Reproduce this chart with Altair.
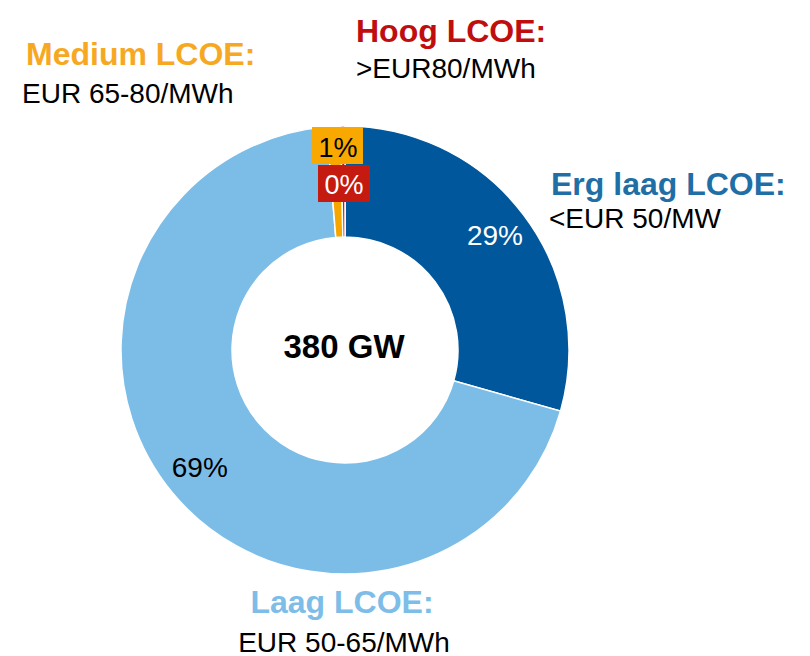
import altair as alt
import pandas as pd

# Data
categories = ["Erg laag LCOE", "Laag LCOE", "Medium LCOE", "Hoog LCOE"]
shares = [29.4, 69.3, 1.0, 0.3]
pct_labels = ["29%", "69%", "1%", "0%"]
slice_order = [1, 2, 3, 4]
slice_colors = ["#00579B", "#7CBDE8", "#F7A600", "#C0190F"]

df = pd.DataFrame({"cat": categories, "share": shares, "label": pct_labels, "ord": slice_order})

FONT = "Liberation Sans Narrow, Liberation Sans, Arial, sans-serif"
W, H = 674, 684

color_scale = alt.Scale(domain=categories, range=slice_colors)

base = alt.Chart(df).encode(
    theta=alt.Theta("share:Q", stack=True),
    order=alt.Order("ord:Q"),
)

arcs = base.mark_arc(innerRadius=113, outerRadius=224, stroke="white", strokeWidth=1.5).encode(
    color=alt.Color("cat:N", scale=color_scale, legend=None)
)

pct_big = base.mark_text(radius=188, font=FONT, fontSize=28, baseline="middle", align="center").encode(
    text="label:N",
    color=alt.condition(alt.datum.cat == "Erg laag LCOE", alt.value("white"), alt.value("black")),
).transform_filter("datum.share > 10")

def txt(s, x, y, size, color, bold=False, align="left"):
    return alt.Chart(pd.DataFrame({"t": [s]})).mark_text(
        font=FONT, fontSize=size, fontWeight="bold" if bold else "normal",
        align=align, baseline="alphabetic", color=color,
    ).encode(text="t:N", x=alt.value(x), y=alt.value(y))

def box(x1, x2, y1, y2, color):
    return alt.Chart(pd.DataFrame({"a": [0]})).mark_rect(color=color).encode(
        x=alt.value(x1), x2=alt.value(x2), y=alt.value(y1), y2=alt.value(y2)
    )

layers = [
    arcs,
    pct_big,
    box(304, 355, 119, 156, "#F9A800"),
    box(310, 362, 157, 194, "#C41A10"),
    txt(pct_labels[2], 330, 149, 27, "black", align="center"),
    txt(pct_labels[3], 336, 186, 27, "white", align="center"),
    txt("380 GW", 336, 350, 33, "black", bold=True, align="center"),
    txt("Medium LCOE:", 18, 57, 32, "#F7A823", bold=True),
    txt("EUR 65-80/MWh", 14, 95, 28, "black"),
    txt("Hoog LCOE:", 348, 34, 32, "#C00D0D", bold=True),
    txt(">EUR80/MWh", 348, 70, 28, "black"),
    txt("Erg laag LCOE:", 543, 187, 32, "#1F6FA6", bold=True),
    txt("<EUR 50/MW", 541, 220, 28, "black"),
    txt("Laag LCOE:", 334, 605, 32, "#7DBDE8", bold=True, align="center"),
    txt("EUR 50-65/MWh", 336, 644, 28, "black", align="center"),
]

chart = alt.layer(*layers).properties(
    width=W, height=H, autosize="none",
    padding={"left": 0, "top": 0, "right": 120, "bottom": 0},
).configure_view(stroke=None)

chart.save("out.html", embed_options={"renderer": "svg", "actions": False})
